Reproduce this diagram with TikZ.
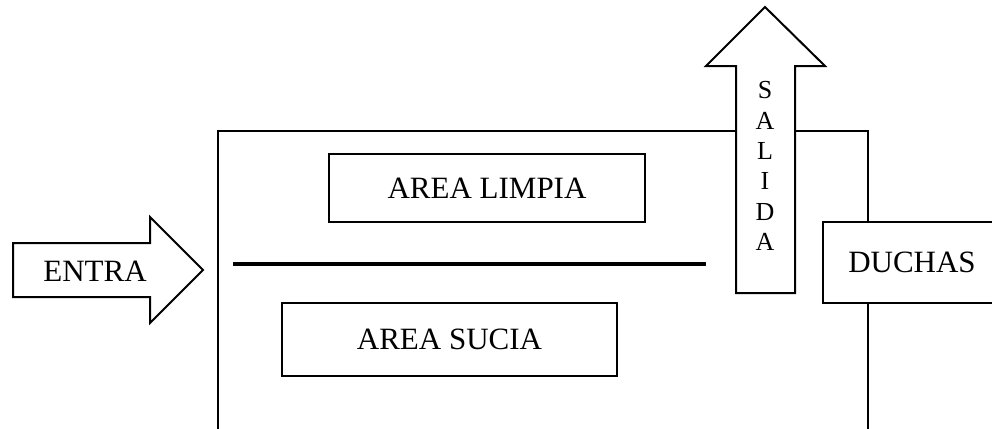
\documentclass[tikz,border=0pt]{standalone}
\usepackage{fontspec}
\setmainfont{Liberation Serif}
\begin{document}
\begin{tikzpicture}[x=1pt,y=-1pt,
  line width=2pt, line join=miter,
  box/.style={draw, fill=white, line width=2pt, inner sep=0pt, font=\fontsize{31}{36}\selectfont},
  lbl/.style={font=\fontsize{31}{36}\selectfont, inner sep=0pt}]
\useasboundingbox (0,0) rectangle (992,428);
% main room outline (open at bottom)
\draw (218,432) -- (218,131) -- (868,131) -- (868,432);
% divider
\draw[line width=4pt] (233,264) -- (706,264);
\node[box, minimum width=316pt, minimum height=68pt] (limpia) at (487,188) {AREA LIMPIA};
\node[box, minimum width=335pt, minimum height=73pt] (sucia) at (449.5,339.5) {AREA SUCIA};
% ENTRA arrow
\draw[fill=white] (13,243) -- (150,243) -- (150,217) -- (203,270) -- (150,323) -- (150,297) -- (13,297) -- cycle;
\node[lbl] (entra) at (95,271) {ENTRA};
% SALIDA arrow
\draw[fill=white] (736,293) -- (736,66) -- (706,66) -- (765,7) -- (825,66) -- (795,66) -- (795,293) -- cycle;
\node[lbl, font=\fontsize{26}{30.3}\selectfont, align=center] (salida) at (765,166) {S\\A\\L\\I\\D\\A};
% DUCHAS
\node[box, minimum width=178pt, minimum height=81pt] (duchas) at (912,262.5) {DUCHAS};
\end{tikzpicture}
\end{document}
